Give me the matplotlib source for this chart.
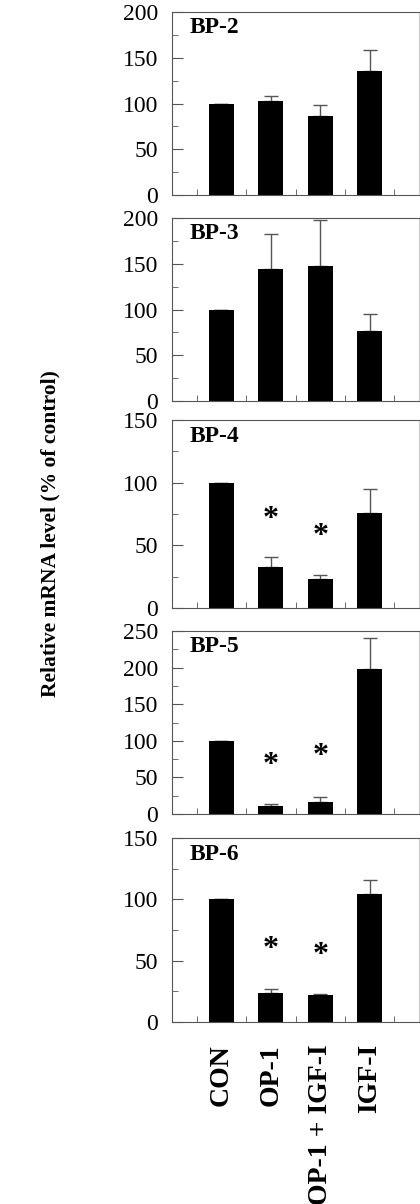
import matplotlib.pyplot as plt
from matplotlib.ticker import MultipleLocator

plt.rcParams['font.family'] = ['Liberation Serif', 'DejaVu Serif']

# treatments and panels
groups = ["CON", "OP-1", "OP-1 + IGF-I", "IGF-I"]
panels = ["BP-2", "BP-3", "BP-4", "BP-5", "BP-6"]
ymax = [200, 200, 150, 250, 150]

# mean relative mRNA level (% of control)
bp2 = [100, 103, 86, 135]
bp3 = [100, 144, 148, 77]
bp4 = [100, 33, 23, 76]
bp5 = [100, 11, 17, 198]
bp6 = [100, 24, 22, 104]

# upper error (SEM)
bp2_err = [0, 5, 12, 23]
bp3_err = [0, 38, 50, 18]
bp4_err = [0, 8, 3, 19]
bp5_err = [0, 3, 6, 43]
bp6_err = [0, 3, 1, 12]

# significance stars (y value, None = no star)
bp4_star = [None, 71, 57, None]
bp5_star = [None, 66, 79, None]
bp6_star = [None, 59, 54, None]

values = [bp2, bp3, bp4, bp5, bp6]
errors = [bp2_err, bp3_err, bp4_err, bp5_err, bp6_err]
stars = [[None] * 4, [None] * 4, bp4_star, bp5_star, bp6_star]

# axes boxes in pixels (top, bottom) of a 420x1204 figure
boxes = [(12, 195), (218, 401), (420, 608), (631, 814), (838, 1022)]
W, H = 420, 1204

fig = plt.figure(figsize=(4.2, 12.04), dpi=100)
x = [1, 2, 3, 4]

for i, name in enumerate(panels):
    top, bot = boxes[i]
    ax = fig.add_axes([172 / W, 1 - bot / H, 247 / W, (bot - top) / H])
    ax.bar(x, values[i], width=0.5, color="black", zorder=2)
    err = errors[i]
    ax.errorbar(x, values[i], yerr=[[0] * 4, err], fmt="none",
                ecolor="#555555", elinewidth=1.0, capsize=5,
                capthick=1.0, zorder=1)
    for xi, s in zip(x, stars[i]):
        if s is not None:
            ax.text(xi, s, "*", ha="center", va="center",
                    fontsize=23, fontweight="bold")
    ax.text(0.07, 0.97, name, transform=ax.transAxes, ha="left", va="top",
            fontsize=17, fontweight="bold")

    ax.set_xlim(0, 5)
    ax.set_ylim(0, ymax[i])
    ax.yaxis.set_major_locator(MultipleLocator(50))
    ax.yaxis.set_minor_locator(MultipleLocator(25))
    ax.set_xticks(x)
    ax.set_xticks([0.5, 1.5, 2.5, 3.5, 4.5], minor=True)
    ax.tick_params(axis="y", which="major", direction="in", length=8,
                   labelsize=17, color="#555555", pad=10)
    ax.tick_params(axis="y", which="minor", direction="in", length=4.5,
                   color="#555555")
    ax.tick_params(axis="x", which="major", length=0)
    ax.tick_params(axis="x", which="minor", direction="in", length=4,
                   color="#555555")
    for side in ["left", "top", "bottom"]:
        ax.spines[side].set_color("#555555")
    ax.spines["right"].set_color("#cccccc")

    if i == len(panels) - 1:
        ax.set_xticklabels(groups, rotation=90, fontsize=20,
                           fontweight="bold", va="top")
        ax.tick_params(axis="x", which="major", pad=16)
    else:
        ax.set_xticklabels([])

fig.text(0.12, 1 - 534 / H, "Relative mRNA level (% of control)",
         rotation=90, ha="center", va="center", fontsize=15.5,
         fontweight="bold")

fig.savefig("out.png", dpi=100)
